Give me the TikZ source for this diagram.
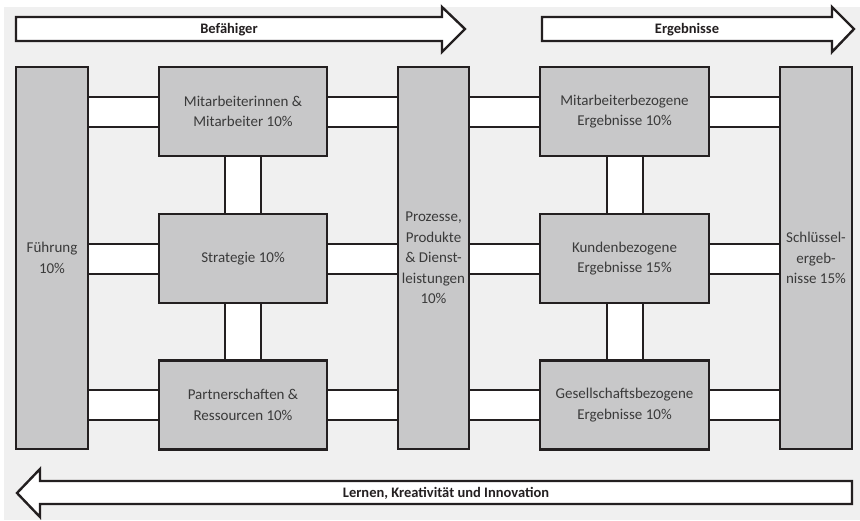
\documentclass[tikz,border=0pt]{standalone}
\usepackage{fontspec}
\setmainfont{Carlito}
\usetikzlibrary{calc}
\pgfdeclarelayer{bg}
\pgfdeclarelayer{conn}
\pgfsetlayers{bg,conn,main}
\definecolor{boxgray}{HTML}{C8C8C9}
\definecolor{pagegray}{HTML}{F0F0F0}
\definecolor{ink}{HTML}{231F20}
\definecolor{txt}{HTML}{3A3A3A}
\tikzset{
  box/.style={draw=ink, line width=2.4pt, fill=boxgray, inner sep=0pt, outer sep=0pt,
    align=center, text=txt, font=\fontsize{15}{20.5}\selectfont},
  connline/.style={draw=ink, line width=2pt},
  bigarrow/.style={draw=ink, line width=2.4pt, fill=white, line join=miter},
  arrowlabel/.style={font=\bfseries\fontsize{14.5}{17}\selectfont, text=ink, inner sep=0pt},
}
\newcommand\hband[3]{%
  \coordinate (hbA) at ($(#1.east|-#3.center)+(0,-15)$);
  \coordinate (hbB) at ($(#2.west|-#3.center)+(0,15)$);
  \fill[white] (hbA) rectangle (hbB);
  \draw[connline] (hbA) -- (hbA-|hbB) (hbB-|hbA) -- (hbB);}
\newcommand\vband[2]{%
  \coordinate (vbA) at ($(#1.south)+(-18,0)$);
  \coordinate (vbB) at ($(#2.north)+(18,0)$);
  \fill[white] (vbA) rectangle (vbB);
  \draw[connline] (vbA) -- (vbA|-vbB) (vbB|-vbA) -- (vbB);}
\begin{document}
\begin{tikzpicture}[x=1pt,y=-1pt]
\useasboundingbox (0,0) rectangle (860,520);
\begin{pgfonlayer}{bg}
  \fill[white] (0,0) rectangle (860,520);
  \fill[pagegray] (4,7) rectangle (860,520);
\end{pgfonlayer}

% boxes
\node[box, minimum width=72pt, minimum height=382pt] (fuehrung) at (52,258) {Führung\\10\%};
\node[box, minimum width=168pt, minimum height=89pt] (mit) at (243,111.5) {Mitarbeiterinnen \&\\Mitarbeiter 10\%};
\node[box, minimum width=168pt, minimum height=89pt] (strat) at (243,258.5) {Strategie 10\%};
\node[box, minimum width=168pt, minimum height=89pt] (partner) at (243,405) {Partnerschaften \&\\Ressourcen 10\%};
\node[box, minimum width=71pt, minimum height=382pt] (proz) at (433.5,258) {Prozesse,\\Produkte\\\& Dienst-\\leistungen\\10\%};
\node[box, minimum width=169pt, minimum height=89pt] (mbez) at (624.5,111.5) {Mitarbeiterbezogene\\Ergebnisse 10\%};
\node[box, minimum width=169pt, minimum height=89pt] (kbez) at (624.5,258.5) {Kundenbezogene\\Ergebnisse 15\%};
\node[box, minimum width=169pt, minimum height=89pt] (gbez) at (624.5,405) {Gesellschaftsbezogene\\Ergebnisse 10\%};
\node[box, minimum width=72pt, minimum height=382pt] (schl) at (816,258) {Schlüssel-\\ergeb-\\nisse 15\%};

% connectors
\begin{pgfonlayer}{conn}
  \hband{fuehrung}{mit}{mit}
  \hband{fuehrung}{strat}{strat}
  \hband{fuehrung}{partner}{partner}
  \hband{mit}{proz}{mit}
  \hband{strat}{proz}{strat}
  \hband{partner}{proz}{partner}
  \hband{proz}{mbez}{mbez}
  \hband{proz}{kbez}{kbez}
  \hband{proz}{gbez}{gbez}
  \hband{mbez}{schl}{mbez}
  \hband{kbez}{schl}{kbez}
  \hband{gbez}{schl}{gbez}
  \vband{mit}{strat}
  \vband{strat}{partner}
  \vband{mbez}{kbez}
  \vband{kbez}{gbez}
\end{pgfonlayer}

% big arrows
\draw[bigarrow] (16,17) -- (442,17) -- (442,7) -- (465,29) -- (442,52) -- (442,41) -- (16,41) -- cycle;
\node[arrowlabel] (befaehiger) at (229,29.5) {Befähiger};
\draw[bigarrow] (542,17) -- (832,17) -- (832,7) -- (854,29) -- (832,52) -- (832,41) -- (542,41) -- cycle;
\node[arrowlabel] (ergebnisse) at (687,29.5) {Ergebnisse};
\draw[bigarrow] (852,481) -- (40,481) -- (40,469) -- (17,493) -- (40,517) -- (40,504) -- (852,504) -- cycle;
\node[arrowlabel] (lernen) at (446,493) {Lernen, Kreativität und Innovation};
\end{tikzpicture}
\end{document}
